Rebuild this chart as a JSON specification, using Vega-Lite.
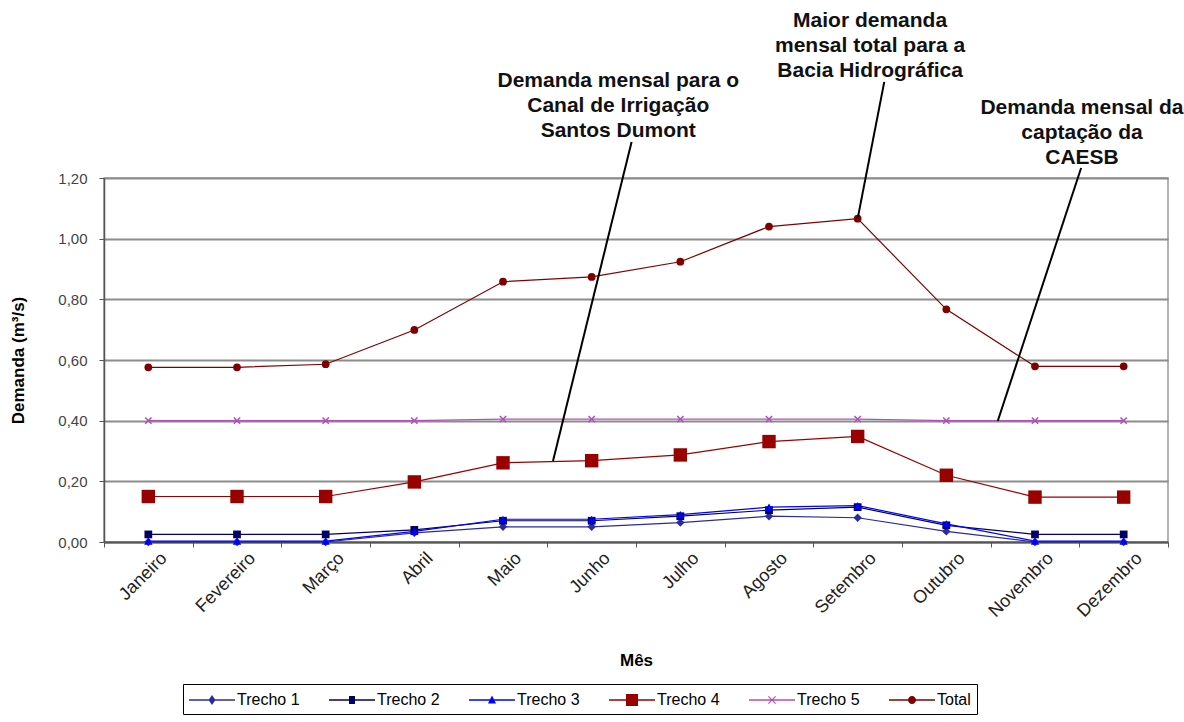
{
  "$schema": "https://vega.github.io/schema/vega-lite/v6.json",
  "width": 1064,
  "height": 364,
  "autosize": {"type": "none"},
  "padding": {"left": 104, "top": 178, "right": 16, "bottom": 180},
  "background": "white",
  "config": {
    "font": "Liberation Sans",
    "view": {"stroke": "#9a9a9a", "strokeWidth": 1.5},
    "axis": {
      "labelFont": "Liberation Sans",
      "labelFontSize": 18,
      "labelColor": "#222222",
      "titleFont": "Liberation Sans",
      "titleFontSize": 17,
      "titleFontWeight": "bold",
      "titleColor": "#000000",
      "domainColor": "#555555",
      "tickColor": "#555555"
    },
    "legend": {
      "orient": "none",
      "legendX": 79,
      "legendY": 506,
      "direction": "horizontal",
      "columns": 6,
      "labelFont": "Liberation Sans",
      "labelFontSize": 16,
      "labelColor": "#000000",
      "strokeColor": "#000000",
      "fillColor": "#ffffff",
      "padding": 6,
      "symbolSize": 400,
      "symbolStrokeWidth": 0,
      "symbolOpacity": 1,
      "columnPadding": 29,
      "labelOffset": 28
    }
  },
  "datasets": {
    "dados": [
      {"mes": "Janeiro", "serie": "Trecho 1", "valor": 0},
      {"mes": "Fevereiro", "serie": "Trecho 1", "valor": 0},
      {"mes": "Março", "serie": "Trecho 1", "valor": 0},
      {"mes": "Abril", "serie": "Trecho 1", "valor": 0.03},
      {"mes": "Maio", "serie": "Trecho 1", "valor": 0.05},
      {"mes": "Junho", "serie": "Trecho 1", "valor": 0.05},
      {"mes": "Julho", "serie": "Trecho 1", "valor": 0.064},
      {"mes": "Agosto", "serie": "Trecho 1", "valor": 0.085},
      {"mes": "Setembro", "serie": "Trecho 1", "valor": 0.08},
      {"mes": "Outubro", "serie": "Trecho 1", "valor": 0.035},
      {"mes": "Novembro", "serie": "Trecho 1", "valor": 0},
      {"mes": "Dezembro", "serie": "Trecho 1", "valor": 0},
      {"mes": "Janeiro", "serie": "Trecho 2", "valor": 0.025},
      {"mes": "Fevereiro", "serie": "Trecho 2", "valor": 0.025},
      {"mes": "Março", "serie": "Trecho 2", "valor": 0.025},
      {"mes": "Abril", "serie": "Trecho 2", "valor": 0.04},
      {"mes": "Maio", "serie": "Trecho 2", "valor": 0.07},
      {"mes": "Junho", "serie": "Trecho 2", "valor": 0.07},
      {"mes": "Julho", "serie": "Trecho 2", "valor": 0.085},
      {"mes": "Agosto", "serie": "Trecho 2", "valor": 0.105},
      {"mes": "Setembro", "serie": "Trecho 2", "valor": 0.115},
      {"mes": "Outubro", "serie": "Trecho 2", "valor": 0.055},
      {"mes": "Novembro", "serie": "Trecho 2", "valor": 0.025},
      {"mes": "Dezembro", "serie": "Trecho 2", "valor": 0.025},
      {"mes": "Janeiro", "serie": "Trecho 3", "valor": 0.003},
      {"mes": "Fevereiro", "serie": "Trecho 3", "valor": 0.003},
      {"mes": "Março", "serie": "Trecho 3", "valor": 0.003},
      {"mes": "Abril", "serie": "Trecho 3", "valor": 0.035},
      {"mes": "Maio", "serie": "Trecho 3", "valor": 0.075},
      {"mes": "Junho", "serie": "Trecho 3", "valor": 0.075},
      {"mes": "Julho", "serie": "Trecho 3", "valor": 0.09},
      {"mes": "Agosto", "serie": "Trecho 3", "valor": 0.115},
      {"mes": "Setembro", "serie": "Trecho 3", "valor": 0.12},
      {"mes": "Outubro", "serie": "Trecho 3", "valor": 0.06},
      {"mes": "Novembro", "serie": "Trecho 3", "valor": 0.003},
      {"mes": "Dezembro", "serie": "Trecho 3", "valor": 0.003},
      {"mes": "Janeiro", "serie": "Trecho 4", "valor": 0.15},
      {"mes": "Fevereiro", "serie": "Trecho 4", "valor": 0.15},
      {"mes": "Março", "serie": "Trecho 4", "valor": 0.15},
      {"mes": "Abril", "serie": "Trecho 4", "valor": 0.198},
      {"mes": "Maio", "serie": "Trecho 4", "valor": 0.261},
      {"mes": "Junho", "serie": "Trecho 4", "valor": 0.268},
      {"mes": "Julho", "serie": "Trecho 4", "valor": 0.287},
      {"mes": "Agosto", "serie": "Trecho 4", "valor": 0.331},
      {"mes": "Setembro", "serie": "Trecho 4", "valor": 0.348},
      {"mes": "Outubro", "serie": "Trecho 4", "valor": 0.22},
      {"mes": "Novembro", "serie": "Trecho 4", "valor": 0.148},
      {"mes": "Dezembro", "serie": "Trecho 4", "valor": 0.148},
      {"mes": "Janeiro", "serie": "Trecho 5", "valor": 0.4},
      {"mes": "Fevereiro", "serie": "Trecho 5", "valor": 0.4},
      {"mes": "Março", "serie": "Trecho 5", "valor": 0.4},
      {"mes": "Abril", "serie": "Trecho 5", "valor": 0.4},
      {"mes": "Maio", "serie": "Trecho 5", "valor": 0.405},
      {"mes": "Junho", "serie": "Trecho 5", "valor": 0.405},
      {"mes": "Julho", "serie": "Trecho 5", "valor": 0.405},
      {"mes": "Agosto", "serie": "Trecho 5", "valor": 0.405},
      {"mes": "Setembro", "serie": "Trecho 5", "valor": 0.405},
      {"mes": "Outubro", "serie": "Trecho 5", "valor": 0.4},
      {"mes": "Novembro", "serie": "Trecho 5", "valor": 0.4},
      {"mes": "Dezembro", "serie": "Trecho 5", "valor": 0.4},
      {"mes": "Janeiro", "serie": "Total", "valor": 0.576},
      {"mes": "Fevereiro", "serie": "Total", "valor": 0.576},
      {"mes": "Março", "serie": "Total", "valor": 0.586},
      {"mes": "Abril", "serie": "Total", "valor": 0.699},
      {"mes": "Maio", "serie": "Total", "valor": 0.858},
      {"mes": "Junho", "serie": "Total", "valor": 0.874},
      {"mes": "Julho", "serie": "Total", "valor": 0.924},
      {"mes": "Agosto", "serie": "Total", "valor": 1.04},
      {"mes": "Setembro", "serie": "Total", "valor": 1.066},
      {"mes": "Outubro", "serie": "Total", "valor": 0.767},
      {"mes": "Novembro", "serie": "Total", "valor": 0.579},
      {"mes": "Dezembro", "serie": "Total", "valor": 0.579}
    ],
    "notas": [
      {"texto": "Demanda mensal para o\nCanal de Irrigação\nSantos Dumont", "x": 5.8, "y": 1.556},
      {"texto": "Maior demanda\nmensal total para a\nBacia Hidrográfica", "x": 8.64, "y": 1.754},
      {"texto": "Demanda mensal da\ncaptação da\nCAESB", "x": 11.03, "y": 1.467}
    ],
    "guias": [
      {"x1": 5.95, "y1": 1.319, "x2": 5.064, "y2": 0.267},
      {"x1": 8.8, "y1": 1.517, "x2": 8.5, "y2": 1.066},
      {"x1": 11.02, "y1": 1.233, "x2": 10.08, "y2": 0.399}
    ]
  },
  "layer": [
    {
      "data": {"name": "dados"},
      "encoding": {
        "x": {
          "field": "mes",
          "type": "nominal",
          "sort": ["Janeiro", "Fevereiro", "Março", "Abril", "Maio", "Junho", "Julho", "Agosto", "Setembro", "Outubro", "Novembro", "Dezembro"],
          "bandPosition": 0.5,
          "scale": {"type": "band", "paddingInner": 0, "paddingOuter": 0},
          "axis": {
            "title": "Mês",
            "labelAngle": -45,
            "tickBand": "extent",
            "tickSize": 5,
            "labelPadding": 2,
            "labelOffset": 9,
            "domainWidth": 2,
            "grid": false,
            "titleBaseline": "middle",
            "titleY": 118
          }
        },
        "y": {
          "field": "valor",
          "type": "quantitative",
          "scale": {"domain": [0, 1.2], "nice": false},
          "axis": {
            "title": "Demanda (m³/s)",
            "values": [0, 0.2, 0.4, 0.6, 0.8, 1.0, 1.2],
            "labelExpr": "replace(format(datum.value, '.2f'), '.', ',')",
            "labelFontSize": 15,
            "labelColor": "#444444",
            "grid": true,
            "gridColor": "#8c8c8c",
            "gridWidth": 2,
            "tickSize": 5,
            "labelPadding": 12,
            "domainWidth": 1.5,
            "titleX": -86,
            "titleBaseline": "middle"
          }
        },
        "color": {
          "field": "serie",
          "type": "nominal",
          "scale": {
            "domain": ["Trecho 1", "Trecho 2", "Trecho 3", "Trecho 4", "Trecho 5", "Total"],
            "range": ["#2b2b9a", "#000066", "#0000ff", "#990000", "#b050b8", "#800000"]
          },
          "legend": {"title": null}
        }
      },
      "layer": [
        {"mark": {"type": "line", "strokeWidth": 1.2}},
        {
          "transform": [{"filter": "datum.serie === 'Trecho 1'"}],
          "mark": {"type": "point", "filled": true, "shape": "diamond", "size": 70, "opacity": 1}
        },
        {
          "transform": [{"filter": "datum.serie === 'Trecho 2'"}],
          "mark": {"type": "point", "filled": true, "shape": "square", "size": 60, "opacity": 1}
        },
        {
          "transform": [{"filter": "datum.serie === 'Trecho 3'"}],
          "mark": {"type": "point", "filled": true, "shape": "triangle-up", "size": 70, "opacity": 1}
        },
        {
          "transform": [{"filter": "datum.serie === 'Trecho 4'"}],
          "mark": {"type": "point", "filled": true, "shape": "square", "size": 180, "opacity": 1}
        },
        {
          "transform": [{"filter": "datum.serie === 'Trecho 5'"}],
          "mark": {"type": "point", "filled": false, "shape": "M-1,-1L1,1M1,-1L-1,1", "size": 40, "strokeWidth": 1.5, "opacity": 1}
        },
        {
          "transform": [{"filter": "datum.serie === 'Total'"}],
          "mark": {"type": "point", "filled": true, "shape": "circle", "size": 60, "opacity": 1}
        },
        {
          "transform": [{"filter": "false"}],
          "mark": {"type": "point", "filled": true, "opacity": 1},
          "encoding": {
            "shape": {
              "field": "serie",
              "type": "nominal",
              "scale": {
                "domain": ["Trecho 1", "Trecho 2", "Trecho 3", "Trecho 4", "Trecho 5", "Total"],
                "range": [
                  "M-1,-0.07H3.6V0.07H-1Z M1.3,-0.5L1.65,0L1.3,0.5L0.95,0Z",
                  "M-1,-0.07H3.6V0.07H-1Z M1.0,-0.4H1.6V0.4H1.0Z",
                  "M-1,-0.07H3.6V0.07H-1Z M1.3,-0.45L1.7,0.35H0.9Z",
                  "M-1,-0.07H3.6V0.07H-1Z M0.7,-0.6H1.9V0.6H0.7Z",
                  "M-1,-0.07H3.6V0.07H-1Z M0.9,-0.32L0.98,-0.4L1.7,0.32L1.62,0.4Z M1.62,-0.4L1.7,-0.32L0.98,0.4L0.9,0.32Z",
                  "M-1,-0.07H3.6V0.07H-1Z M0.9,0A0.4,0.4,0,1,1,1.7,0A0.4,0.4,0,1,1,0.9,0Z"
                ]
              },
              "legend": {"title": null}
            }
          }
        }
      ]
    },
    {
      "data": {"name": "guias"},
      "mark": {"type": "rule", "color": "#000000", "strokeWidth": 2},
      "encoding": {
        "x": {"field": "x1", "type": "quantitative", "scale": {"domain": [0, 12], "nice": false, "zero": false}, "axis": null},
        "x2": {"field": "x2"},
        "y": {"field": "y1", "type": "quantitative", "scale": {"domain": [0, 1.2], "nice": false}, "axis": null},
        "y2": {"field": "y2"}
      }
    },
    {
      "data": {"name": "notas"},
      "mark": {
        "type": "text",
        "lineBreak": "\n",
        "font": "Liberation Sans",
        "fontWeight": "bold",
        "fontSize": 21,
        "lineHeight": 25,
        "align": "center",
        "baseline": "top",
        "color": "#111111"
      },
      "encoding": {
        "x": {"field": "x", "type": "quantitative", "scale": {"domain": [0, 12], "nice": false, "zero": false}, "axis": null},
        "y": {"field": "y", "type": "quantitative", "scale": {"domain": [0, 1.2], "nice": false}, "axis": null},
        "text": {"field": "texto"}
      }
    }
  ],
  "resolve": {"scale": {"x": "independent", "y": "independent"}}
}
